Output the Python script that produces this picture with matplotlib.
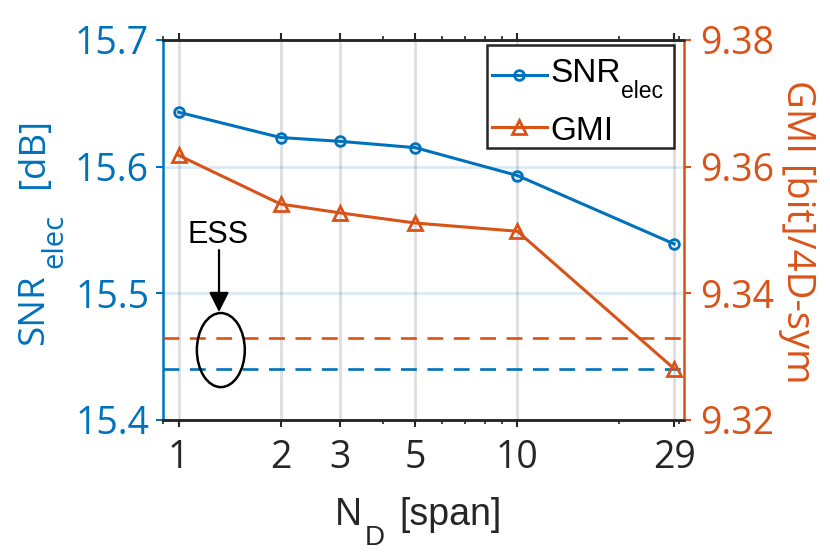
import matplotlib
matplotlib.use('Agg')
import matplotlib.pyplot as plt
from matplotlib.patches import Ellipse, Rectangle
from matplotlib.lines import Line2D
from matplotlib.ticker import FixedLocator, FixedFormatter, LogLocator, NullFormatter

BLUE = '#0072BD'
ORANGE = '#D95319'
DARK = '#262626'
W, H = 830, 554

# data
nd_span = [1, 2, 3, 5, 10, 29]
snr_elec = [15.643, 15.623, 15.620, 15.615, 15.593, 15.539]
gmi = [9.3618, 9.3541, 9.3527, 9.3511, 9.3498, 9.3281]
snr_ess = 15.440
gmi_ess = 9.3329
xtick_vals = [1, 2, 3, 5, 10, 29]
xtick_labels = ['1', '2', '3', '5', '10', '29']

SEGOE = ['Open Sans', 'DejaVu Sans']
ARIAL = ['Liberation Sans', 'DejaVu Sans']
plt.rcParams['font.family'] = SEGOE


def px(x, y):
    # pixel position (from top-left) -> figure fraction
    return x / W, 1 - y / H


fig = plt.figure(figsize=(8.3, 5.54), dpi=100)
ax1 = fig.add_axes([0.1964, 0.2419, 0.6276, 0.6859])
ax2 = ax1.twinx()

ax1.plot(nd_span, snr_elec, color=BLUE, lw=2.2, marker='o', ms=7,
         mfc='none', mew=2)
ax1.plot([0.9, 31], [snr_ess, snr_ess], color=BLUE, lw=1.9, ls=(0, (6, 4)))
ax2.plot(nd_span, gmi, color=ORANGE, lw=2.2, marker='^', ms=9.5,
         mfc='none', mew=2)
ax2.plot([0.9, 31], [gmi_ess, gmi_ess], color=ORANGE, lw=1.9, ls=(0, (6, 4)))

ax1.set_xscale('log')
ax1.set_xlim(0.9, 31)
ax1.set_ylim(15.4, 15.7)
ax2.set_ylim(9.32, 9.38)
ax1.set_yticks([15.4, 15.5, 15.6, 15.7])
ax1.set_yticklabels(['15.4', '15.5', '15.6', '15.7'])
ax2.set_yticks([9.32, 9.34, 9.36, 9.38])
ax2.set_yticklabels(['9.32', '9.34', '9.36', '9.38'])
ax1.xaxis.set_major_locator(FixedLocator(xtick_vals))
ax1.xaxis.set_major_formatter(FixedFormatter(xtick_labels))
ax1.xaxis.set_minor_locator(LogLocator(base=10, subs=range(2, 10)))
ax1.xaxis.set_minor_formatter(NullFormatter())

# grid
ax1.set_axisbelow(True)
ax1.xaxis.grid(True, which='major', color='#dedede', lw=2)
ax1.yaxis.grid(True, which='major', color=BLUE, alpha=0.15, lw=2)

# spines and ticks
for a in (ax1, ax2):
    for s in ('top', 'bottom'):
        a.spines[s].set_color(DARK)
        a.spines[s].set_linewidth(1.8)
ax1.spines['left'].set_color(BLUE)
ax1.spines['left'].set_linewidth(1.8)
ax1.spines['right'].set_visible(False)
ax2.spines['left'].set_visible(False)
ax2.spines['right'].set_color(ORANGE)
ax2.spines['right'].set_linewidth(1.8)

ax1.tick_params(axis='x', which='major', direction='out', length=5, width=1.5,
                colors=DARK, labelsize=27, top=True, pad=9)
ax1.tick_params(axis='x', which='minor', direction='out', length=3, width=1.2,
                colors=DARK, top=True)
ax1.tick_params(axis='y', direction='out', length=5, width=1.5, colors=BLUE,
                labelsize=27, pad=5)
ax2.tick_params(axis='y', direction='out', length=5, width=1.5, colors=ORANGE,
                labelsize=27, pad=7)

# axis labels, built from pieces so the subscripts sit like the original
rot = dict(rotation_mode='anchor', ha='left', va='baseline')
fig.text(*px(335, 525), 'N', fontsize=27, color=DARK, family=ARIAL, ha='left', va='baseline')
fig.text(*px(365, 545), 'D', fontsize=20, color=DARK, family=ARIAL, ha='left', va='baseline')
fig.text(*px(399, 525), '[span]', fontsize=27, color=DARK, family=ARIAL, ha='left', va='baseline')

fig.text(*px(43, 345), 'SNR', fontsize=26.5, color=BLUE, rotation=90, **rot)
fig.text(*px(62, 268), 'elec', fontsize=21, color=BLUE, rotation=90, **rot)
fig.text(*px(43, 188), '[dB]', fontsize=26.5, color=BLUE, rotation=90, **rot)

fig.text(*px(787, 80), 'GMI [bit]/4D-sym', fontsize=27.5, color=ORANGE,
         rotation=270, **rot)

# ESS annotation
ell = Ellipse((0.111, 0.184), 0.092, 0.195, transform=ax2.transAxes,
              fill=False, ec='black', lw=1.8, zorder=5)
ax2.add_patch(ell)
ax2.annotate('', xy=(0.1075, 0.284), xytext=(0.1075, 0.447),
             xycoords='axes fraction', textcoords='axes fraction',
             arrowprops=dict(arrowstyle='-|>', color='black', lw=1.6,
                             mutation_scale=30, shrinkA=0, shrinkB=0))
fig.text(*px(218, 243), 'ESS', fontsize=22, family=ARIAL, color='black',
         ha='center', va='baseline')

# legend box
x0, y0 = px(487, 148)
x1, y1 = px(674, 45)
fig.add_artist(Rectangle((x0, y0), x1 - x0, y1 - y0, transform=fig.transFigure,
                         facecolor='white', edgecolor=DARK, lw=1.8, zorder=3))
for yy, col, mk, ms in ((75, BLUE, 'o', 7), (127, ORANGE, '^', 9.5)):
    lx = [492 / W, 547 / W]
    ly = [1 - yy / H] * 2
    fig.add_artist(Line2D(lx, ly, color=col, lw=2.2, transform=fig.transFigure, zorder=4))
    fig.add_artist(Line2D([519 / W], [1 - yy / H], color=col, marker=mk, ms=ms,
                          mfc='none', mew=2, transform=fig.transFigure, zorder=4))
fig.text(*px(550, 82), 'SNR', fontsize=24, family=ARIAL, color='black',
         ha='left', va='baseline', zorder=5)
fig.text(*px(621, 98), 'elec', fontsize=16.5, family=ARIAL, color='black',
         ha='left', va='baseline', zorder=5)
fig.text(*px(550, 140), 'GMI', fontsize=24, family=ARIAL, color='black',
         ha='left', va='baseline', zorder=5)

fig.savefig('out.png', dpi=100)
